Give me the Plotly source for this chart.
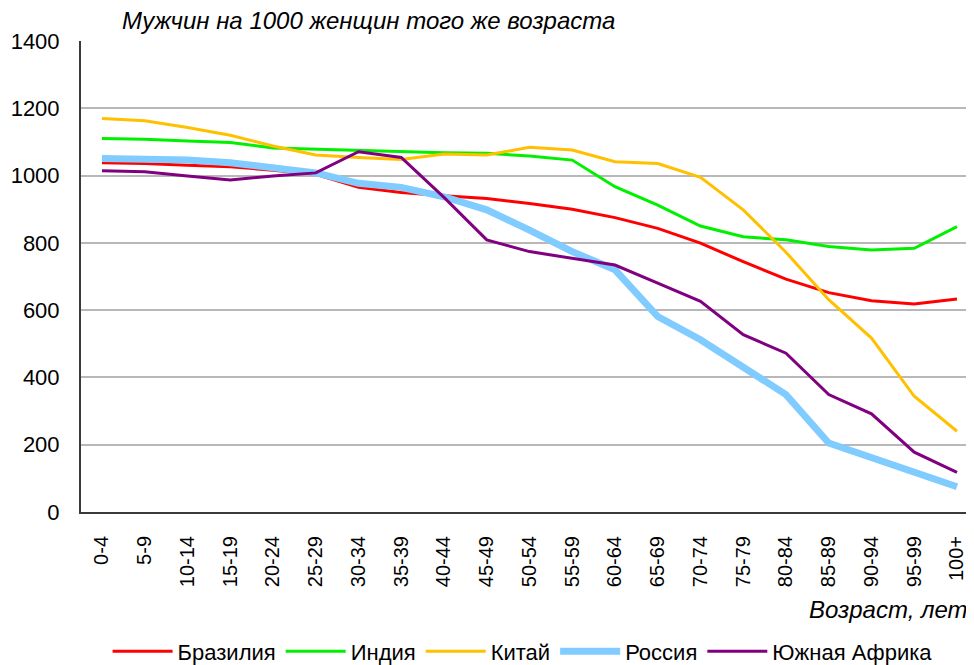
import plotly.graph_objects as go

ages = ["0-4", "5-9", "10-14", "15-19", "20-24", "25-29", "30-34", "35-39", "40-44",
        "45-49", "50-54", "55-59", "60-64", "65-69", "70-74", "75-79", "80-84",
        "85-89", "90-94", "95-99", "100+"]

brazil = [1038, 1036, 1031, 1026, 1016, 1004, 965, 950, 940, 932, 917, 900, 875,
          843, 799, 744, 692, 652, 628, 618, 633]
india = [1110, 1108, 1103, 1098, 1082, 1078, 1074, 1071, 1068, 1066, 1058, 1046,
         967, 912, 850, 818, 809, 789, 779, 784, 848]
china = [1170, 1163, 1143, 1120, 1088, 1061, 1054, 1048, 1064, 1061, 1084, 1076,
         1041, 1036, 995, 898, 772, 631, 517, 344, 240]
russia = [1051, 1051, 1046, 1038, 1024, 1008, 977, 965, 937, 898, 838, 774, 720,
          581, 512, 433, 349, 205, 161, 114, 75]
south_africa = [1014, 1011, 999, 987, 999, 1008, 1071, 1054, 935, 809, 774, 754,
                734, 680, 626, 527, 472, 349, 292, 178, 118]

y_ticks = [0, 200, 400, 600, 800, 1000, 1200, 1400]

series = [
    ("Бразилия", brazil, "#FF0000", 3),
    ("Индия", india, "#00F000", 3),
    ("Китай", china, "#FFC000", 3),
    ("Россия", russia, "#80CBFF", 7),
    ("Южная Африка", south_africa, "#800080", 3),
]

FONT = "Liberation Sans, Arial, sans-serif"

fig = go.Figure()
for name, vals, color, width in series:
    fig.add_trace(go.Scatter(
        x=list(range(len(ages))), y=vals, name=name, mode="lines",
        line=dict(color=color, width=width),
    ))

# page body has an 8px default margin, so the figure is sized/offset to compensate
fig.update_layout(
    width=966, height=657,
    margin=dict(l=73, r=0, t=33, b=152.5, autoexpand=False),
    paper_bgcolor="white", plot_bgcolor="white",
    font=dict(family=FONT, color="#000000"),
    showlegend=True,
    legend=dict(
        orientation="h", x=0.4945, xanchor="center", y=-0.2959, yanchor="middle",
        font=dict(size=22, family=FONT), itemwidth=60, tracegroupgap=0,
        bgcolor="rgba(0,0,0,0)",
    ),
    annotations=[
        dict(text="<i>Мужчин на 1000 женщин того же возраста</i>",
             xref="paper", yref="paper", x=0.0437, y=1.0425,
             xanchor="left", yanchor="middle", showarrow=False,
             font=dict(size=24, family=FONT)),
        dict(text="<i>Возраст, лет</i>",
             xref="paper", yref="paper", x=0.995, y=-0.2068,
             xanchor="right", yanchor="middle", showarrow=False,
             font=dict(size=24, family=FONT)),
    ],
)

fig.update_xaxes(
    range=[-0.491, 20.398], tickmode="array",
    tickvals=list(range(len(ages))), ticktext=ages,
    tickangle=-90, tickfont=dict(size=20, family=FONT),
    showgrid=False, zeroline=False, automargin=False,
    showline=True, linecolor="#3A3A3A", linewidth=2,
    ticks="", ticklabelstandoff=14,
)
fig.update_yaxes(
    range=[0, 1400], tickmode="array", tickvals=y_ticks,
    tickfont=dict(size=22, family=FONT), automargin=False,
    showgrid=True, gridcolor="#B8B8B8", gridwidth=2,
    zeroline=False, showline=True, linecolor="#3A3A3A", linewidth=2,
    ticks="", ticklabelstandoff=15,
)

fig.write_html("out.html")
